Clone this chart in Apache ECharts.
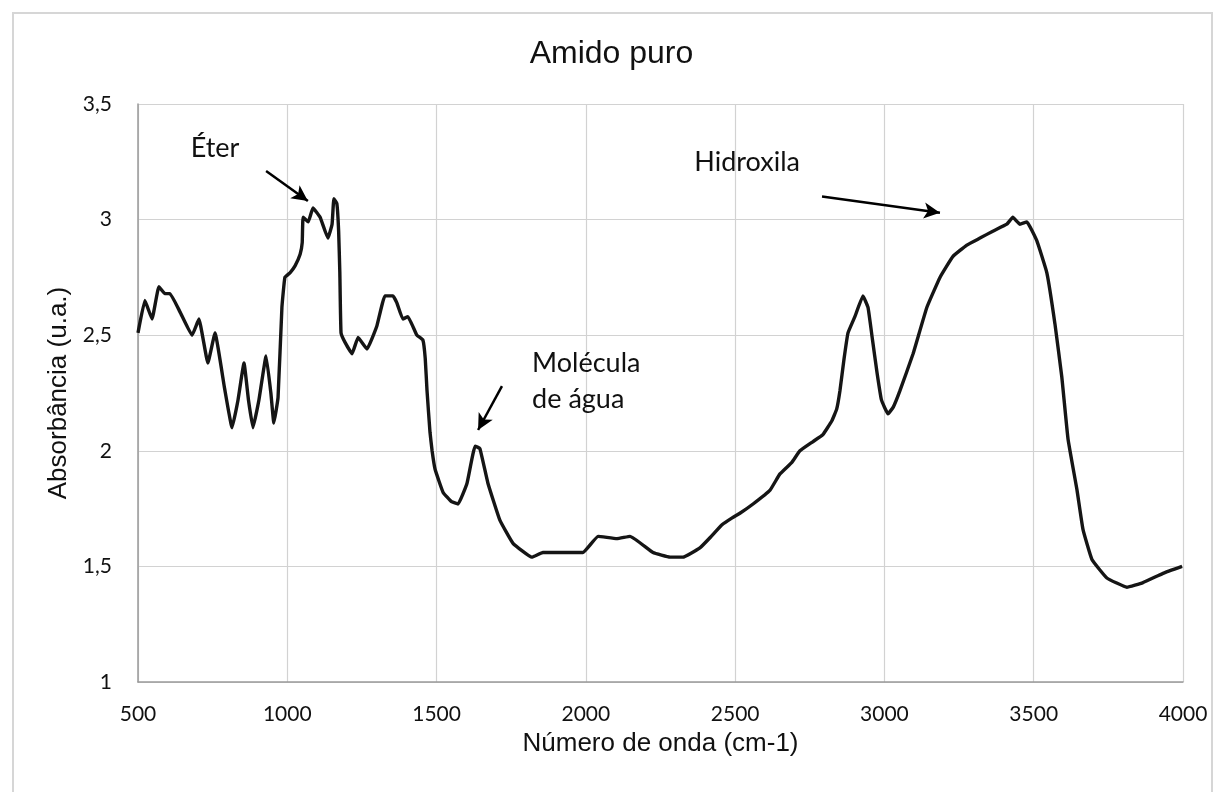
<!DOCTYPE html>
<html>
<head>
<meta charset="utf-8">
<script src="https://cdn.jsdelivr.net/npm/echarts@6/dist/echarts.min.js"></script>
<style>
  html, body { margin: 0; padding: 0; background: #fff; }
  #chart { width: 1223px; height: 792px; }
</style>
</head>
<body>
<div id="chart"></div>
<script>
// FTIR spectrum of pure starch: wavenumber (cm-1) vs absorbance (a.u.)
const wavenumber = [
  500, 523, 547, 570, 590, 607, 641, 681, 704, 734, 758, 790, 815, 835, 855, 870, 885, 905, 929, 945, 955,
  969, 982, 992, 1009, 1026, 1043, 1050, 1053, 1070, 1086, 1110, 1136, 1150, 1156, 1166, 1172, 1176, 1180,
  1193, 1217, 1237, 1267, 1300, 1327, 1354, 1367, 1387, 1404, 1434, 1454, 1462, 1468, 1478, 1485, 1495,
  1522, 1550, 1572, 1602, 1629, 1645, 1672, 1712, 1756, 1819, 1856, 1913, 1990, 2041, 2104, 2148, 2225,
  2282, 2325, 2382, 2420, 2456, 2490, 2516, 2560, 2617, 2650, 2690, 2717, 2761, 2794, 2824, 2840, 2851,
  2865, 2878, 2901, 2928, 2945, 2960, 2975, 2990, 3012, 3030, 3052, 3096, 3142, 3186, 3229, 3276, 3320,
  3363, 3410, 3430, 3454, 3477, 3510, 3544, 3571, 3594, 3615, 3645, 3665, 3695, 3745, 3812, 3866, 3933, 3997
];
const absorbance = [
  2.51, 2.65, 2.57, 2.71, 2.68, 2.68, 2.60, 2.50, 2.57, 2.38, 2.51, 2.27, 2.10, 2.22, 2.38, 2.22, 2.10, 2.22, 2.41, 2.25, 2.12,
  2.23, 2.62, 2.75, 2.77, 2.80, 2.85, 2.90, 3.01, 2.99, 3.05, 3.01, 2.92, 2.98, 3.09, 3.07, 2.95, 2.77, 2.51,
  2.47, 2.42, 2.49, 2.44, 2.54, 2.67, 2.67, 2.64, 2.57, 2.58, 2.50, 2.48, 2.40, 2.26, 2.08, 2.00, 1.92,
  1.82, 1.78, 1.77, 1.86, 2.02, 2.01, 1.86, 1.70, 1.60, 1.54, 1.56, 1.56, 1.56, 1.63, 1.62, 1.63, 1.56,
  1.54, 1.54, 1.58, 1.63, 1.68, 1.71, 1.73, 1.77, 1.83, 1.90, 1.95, 2.00, 2.04, 2.07, 2.13, 2.18, 2.26,
  2.40, 2.51, 2.58, 2.67, 2.62, 2.48, 2.34, 2.22, 2.16, 2.19, 2.26, 2.42, 2.62, 2.75, 2.84, 2.89, 2.92,
  2.95, 2.98, 3.01, 2.98, 2.99, 2.91, 2.77, 2.55, 2.32, 2.05, 1.83, 1.66, 1.53, 1.45, 1.41, 1.43, 1.47, 1.50
];

// Axis settings
const xTicks = { min: 500, max: 4000, step: 500 };
const yTicks = { min: 1, max: 3.5, step: 0.5 };

// Band annotations: label text, label anchor, arrow tail and head (data units)
const bandLabels = ['Éter', 'Hidroxila', 'Molécula\nde água'];
const labelAnchors = [[758, 3.31], [2540, 3.25], [1820, 2.30]];
const arrowTails = [[929, 3.21], [2791, 3.10], [1719, 2.28]];
const arrowHeads = [[1069, 3.08], [3186, 3.03], [1639, 2.09]];

const points = wavenumber.map((w, i) => [w, absorbance[i]]);

const chart = echarts.init(document.getElementById('chart'), null, { renderer: 'canvas' });

const tickFont = 'Lato, "Open Sans", sans-serif';
const titleFont = '"Liberation Sans", Arial, sans-serif';
const gridColor = '#d2d2d2';

chart.setOption({
  animation: false,
  backgroundColor: '#ffffff',
  title: {
    text: 'Amido puro',
    left: 'center',
    top: 33,
    textStyle: { fontFamily: titleFont, fontSize: 32, fontWeight: 'normal', color: '#111' }
  },
  grid: { left: 138, right: 40, top: 104, bottom: 110, containLabel: false },
  xAxis: {
    type: 'value',
    min: xTicks.min,
    max: xTicks.max,
    interval: xTicks.step,
    name: 'Número de onda (cm-1)',
    nameLocation: 'middle',
    nameGap: 49,
    nameTextStyle: { fontFamily: titleFont, fontSize: 26, color: '#111' },
    axisLine: { show: true, lineStyle: { color: '#9a9a9a', width: 1.5 } },
    axisTick: { show: false },
    axisLabel: {
      margin: 22,
      fontFamily: tickFont,
      fontSize: 21,
      color: '#111',
      formatter: v => String(v)
    },
    splitLine: { show: true, lineStyle: { color: gridColor, width: 1.2 } }
  },
  yAxis: {
    type: 'value',
    min: yTicks.min,
    max: yTicks.max,
    interval: yTicks.step,
    name: 'Absorbância (u.a.)',
    nameLocation: 'middle',
    nameGap: 56,
    nameTextStyle: { fontFamily: titleFont, fontSize: 26, color: '#111' },
    axisLine: { show: true, lineStyle: { color: '#9a9a9a', width: 1.5 } },
    axisTick: { show: false },
    axisLabel: {
      margin: 26,
      fontFamily: tickFont,
      fontSize: 21,
      color: '#111',
      formatter: v => String(v).replace('.', ',')
    },
    splitLine: { show: true, lineStyle: { color: gridColor, width: 1.2 } }
  },
  graphic: [
    {
      type: 'rect',
      shape: { x: 13, y: 13, width: 1199, height: 790 },
      style: { fill: null, stroke: '#d6d6d6', lineWidth: 2 },
      silent: true,
      z: -10
    }
  ],
  series: [
    {
      type: 'line',
      data: points,
      showSymbol: false,
      smooth: 0.1,
      lineStyle: { color: '#151515', width: 3.4 },
      z: 5,
      markLine: {
        silent: true,
        symbol: ['none', 'arrow'],
        symbolSize: [12, 16],
        label: { show: false },
        lineStyle: { color: '#000', width: 2.5, type: 'solid' },
        data: arrowTails.map((t, i) => [{ coord: t }, { coord: arrowHeads[i] }])
      },
      markPoint: {
        silent: true,
        symbol: 'circle',
        symbolSize: 0,
        data: bandLabels.map((txt, i) => ({
          coord: labelAnchors[i],
          label: {
            show: true,
            formatter: txt,
            position: 'inside',
            align: i === 2 ? 'left' : 'center',
            verticalAlign: 'middle',
            fontFamily: tickFont,
            fontSize: 27,
            lineHeight: 36,
            color: '#111'
          }
        }))
      }
    }
  ]
});
</script>
</body>
</html>
